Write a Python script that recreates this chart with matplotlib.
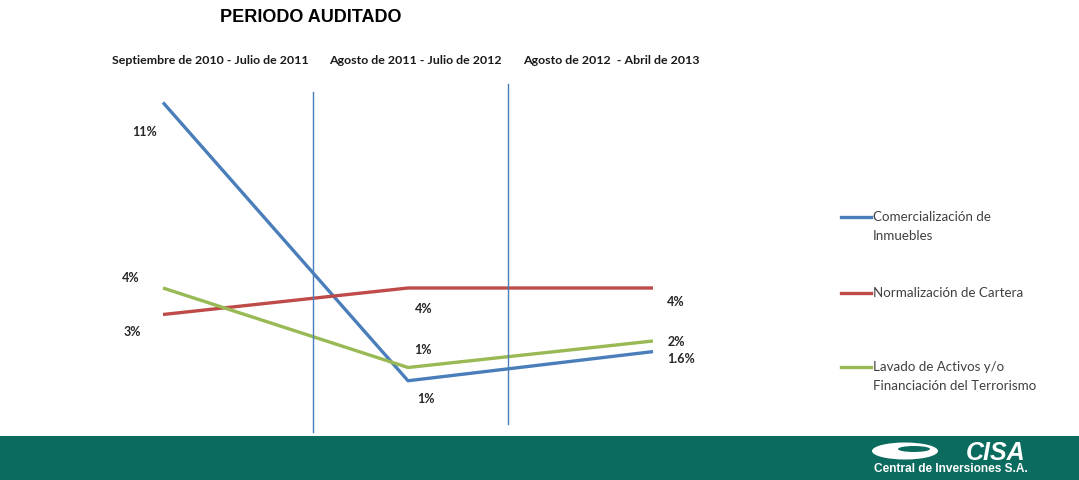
import matplotlib
matplotlib.use("Agg")
import matplotlib.pyplot as plt
from matplotlib.lines import Line2D
from matplotlib.patches import Rectangle, Ellipse

# ---- data ----
periods = ["Septiembre de 2010 - Julio de 2011",
           "Agosto de 2011 - Julio de 2012",
           "Agosto de 2012  - Abril de 2013"]
series_names = ["Comercialización de\nInmuebles",
                "Normalización de Cartera",
                "Lavado de Activos y/o\nFinanciación del Terrorismo"]
comercializacion = [11.0, 0.5, 1.6]
normalizacion = [3.0, 4.0, 4.0]
lavado = [4.0, 1.0, 2.0]
labels_comercializacion = ["11%", "1%", "1.6%"]
labels_normalizacion = ["3%", "4%", "4%"]
labels_lavado = ["4%", "1%", "2%"]
colors = ["#4a7ebb", "#be4b48", "#98b954"]

W, H = 1079, 480
fig = plt.figure(figsize=(W / 100, H / 100), dpi=100)
fig.patch.set_facecolor("white")

# axes covering the whole figure; scales chosen so data sit where they should
ax = fig.add_axes([0, 0, 1, 1])
ax.set_xlim(-163 / 245, (W - 163) / 245)
ax.set_ylim((394 - H) / 26.5, 394 / 26.5)
ax.axis("off")

x = list(range(len(periods)))
all_series = [comercializacion, normalizacion, lavado]
all_labels = [labels_comercializacion, labels_normalizacion, labels_lavado]
# label offsets in pixels (dx, dy) per series, per point
offsets = [
    [(-18, -29), (18, -18), (28, -7)],
    [(-31, -18), (16, -21), (23, -14)],
    [(-32, 10), (15, 17), (23, -1)],
]
for vals, c in zip(all_series, colors):
    ax.plot(x, vals, color=c, lw=2.4, solid_capstyle="butt", zorder=3)
for vals, labs, offs in zip(all_series, all_labels, offsets):
    for xi, v, lab, (dx, dy) in zip(x, vals, labs, offs):
        ax.annotate(lab, (xi, v), xytext=(dx, dy), textcoords="offset pixels",
                    ha="center", va="center", fontsize=9, fontweight="bold",
                    family="Lato", color="#262626")

# vertical separators (figure pixel coordinates)
def fx(px):
    return px / W
def fy(py):
    return 1 - py / H

fig.add_artist(Line2D([fx(313), fx(313)], [fy(92), fy(432)], color="#4a7ebb", lw=1.0))
fig.add_artist(Line2D([fx(508), fx(508)], [fy(84), fy(424)], color="#4a7ebb", lw=1.0))

# title and period headers
fig.text(fx(311), fy(17), "PERIODO AUDITADO", ha="center", va="center",
         fontsize=13, fontweight="bold", family="Liberation Sans", color="#000000")
for px, p in zip([210, 415, 611], periods):
    fig.text(fx(px), fy(60), p, ha="center", va="center", fontsize=8.9,
             fontweight="bold", family="Lato", color="#1a1a1a")

# legend (manual)
leg_y = [217, 293, 367]
for yy, name, c in zip(leg_y, series_names, colors):
    fig.add_artist(Line2D([fx(841), fx(871)], [fy(yy), fy(yy)], color=c, lw=2.4))
    fig.text(fx(873), fy(yy - 6), name, ha="left", va="top", fontsize=9.6,
             family="Lato", color="#404040", linespacing=1.7)

# bottom band with logo
fig.add_artist(Rectangle((0, 0), 1, 44 / H, transform=fig.transFigure,
                         facecolor="#0b6b5f", edgecolor="none"))
fig.add_artist(Ellipse((fx(905), fy(451)), 66 / W, 17 / H, angle=0,
                       transform=fig.transFigure, facecolor="white", edgecolor="none"))
fig.add_artist(Ellipse((fx(914), fy(449)), 32 / W, 6 / H, angle=0,
                       transform=fig.transFigure, facecolor="#0b6b5f", edgecolor="none"))
fig.text(fx(996), fy(453), "CISA", ha="center", va="center", fontsize=18,
         fontweight="bold", style="italic", family="Liberation Sans", color="white")
fig.text(fx(951), fy(469), "Central de Inversiones S.A.", ha="center", va="center",
         fontsize=8.6, fontweight="bold", family="Liberation Sans", color="white")

fig.savefig("out.png", dpi=100, facecolor="white")
